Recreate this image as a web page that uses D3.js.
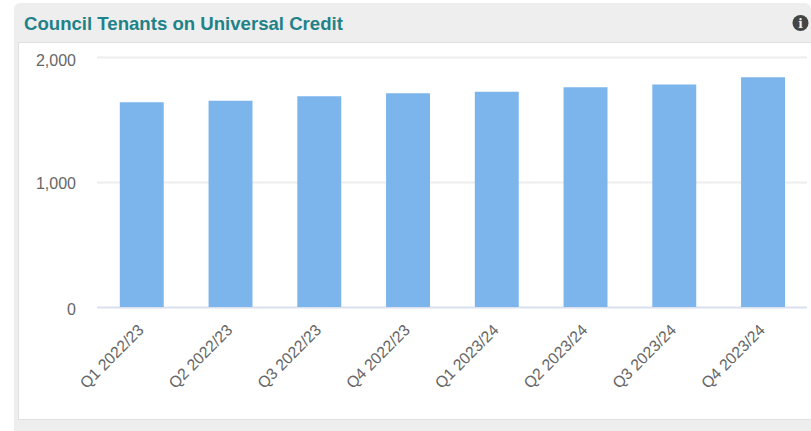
<!DOCTYPE html>
<html><head><meta charset="utf-8">
<script src="https://cdn.jsdelivr.net/npm/d3@7"></script>
<style>html,body{margin:0;padding:0;background:#fff;overflow:hidden}svg{display:block}text{font-family:"Liberation Sans",Arial,sans-serif}</style>
</head><body><svg id="c" width="811" height="431"></svg>
<script>
const categories=["Q1 2022/23","Q2 2022/23","Q3 2022/23","Q4 2022/23","Q1 2023/24","Q2 2023/24","Q3 2023/24","Q4 2023/24"];
const values=[1638,1650,1686,1710,1722,1758,1780,1838];
const yTicks=[0,1000,2000];
const title="Council Tenants on Universal Credit";
const svg=d3.select("#c");
svg.append("path").attr("d","M14,431V9a6,6 0 0 1 6,-6H805a6,6 0 0 1 6,6V431Z").attr("fill","#eeeeee");
svg.append("rect").attr("x",18.5).attr("y",42.5).attr("width",800).attr("height",377).attr("fill","#fff").attr("stroke","#e0e0e0");
svg.append("text").attr("x",24).attr("y",30).attr("fill","#1f8289").attr("font-size",18.6).attr("font-weight","bold").text(title);
const info=svg.append("g").attr("transform","translate(800.5,23)");
info.append("circle").attr("r",8).attr("fill","#444");
info.append("text").attr("text-anchor","middle").attr("y",4.5).attr("font-size",12).attr("font-weight","bold").attr("fill","#eee").style("font-family","'DejaVu Serif',serif").text("i");
const x=d3.scaleBand().domain(categories).range([97.4,807.4]).paddingInner(0.505).paddingOuter(0.2525);
const y=d3.scaleLinear().domain([0,2000]).range([307,57]);
const gy=svg.append("g").attr("transform","translate(97,0)").call(d3.axisLeft(y).tickValues(yTicks).tickSize(-710).tickPadding(21).tickFormat(d3.format(",")));
gy.select(".domain").remove();
gy.selectAll(".tick line").attr("stroke",d=>d===0?"#dbe0f0":"#eeeeee").attr("stroke-width",2);
gy.selectAll(".tick text").attr("fill","#666").attr("font-size",16).attr("dy","0.36em").attr("y",d=>d===0?2:(d===2000?3:1));
svg.append("g").selectAll("rect").data(values).join("rect")
 .attr("x",(d,i)=>x(categories[i])).attr("width",x.bandwidth())
 .attr("y",d=>y(d)).attr("height",d=>y(0)-y(d)).attr("fill","#7cb5ec");
const gx=svg.append("g").attr("transform","translate(0,307)").call(d3.axisBottom(x).tickSize(0));
gx.select(".domain").remove();
gx.selectAll(".tick text").attr("fill","#666").attr("font-size",15.8).attr("text-anchor","end").attr("dy",0).attr("y",0)
 .attr("transform","translate(3,24) rotate(-45)");
</script></body></html>
